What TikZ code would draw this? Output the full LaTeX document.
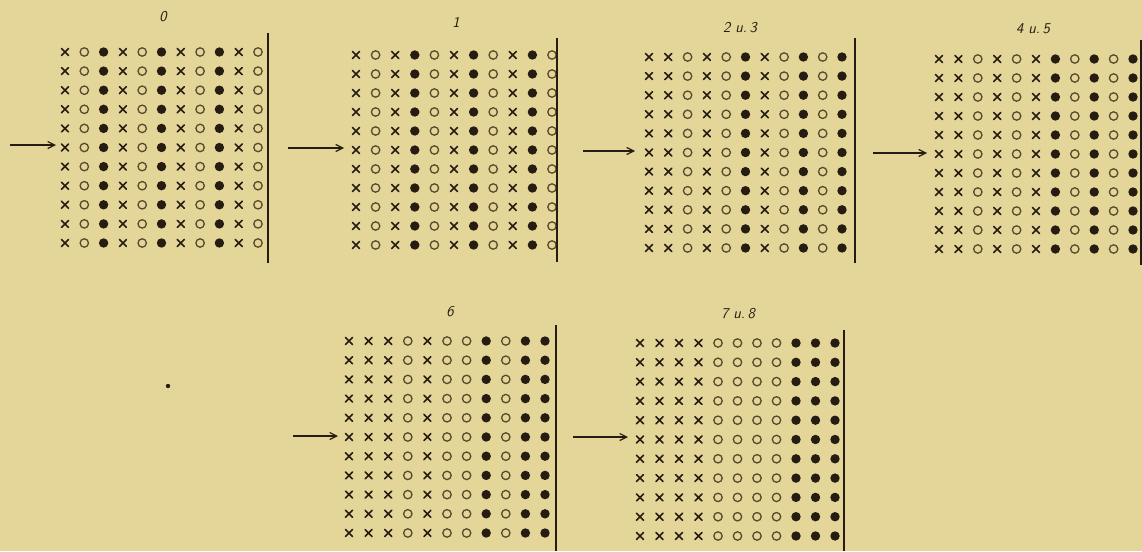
\documentclass[tikz,border=0pt]{standalone}
\usetikzlibrary{arrows.meta}
\definecolor{paper}{RGB}{228,214,152}
\definecolor{ink}{RGB}{38,28,18}
\definecolor{ringink}{RGB}{88,74,44}
\tikzset{
  mark x/.pic={\draw[ink,line width=1.6pt,line cap=round] (-3.5,-3.5) -- (3.5,3.5) (-3.5,3.5) -- (3.5,-3.5);},
  mark o/.pic={\draw[ringink,line width=1.3pt] (0,0) circle (4.2);},
  mark f/.pic={\fill[ink] (0,0) circle (4.7);},
  bar/.style={ink,line width=2.4pt},
  feed/.style={ink,line width=1.2pt,-{Straight Barb[length=7pt,width=7pt,line width=1.2pt]}},
  lab/.style={ink,font=\sffamily\itshape\fontsize{15}{15}\selectfont,inner sep=0pt}
}
% #1 x0, #2 y0, #3 dx, #4 dy, #5 pattern
\newcommand{\dotgrid}[5]{%
  \foreach \t [count=\i from 0] in {#5} {%
    \foreach \j in {0,...,10} {%
      \pic at ({#1+\i*#3},{#2+\j*#4}) {mark \t};
    }
  }%
}
\begin{document}
\begin{tikzpicture}[x=1pt,y=-1pt]
\fill[paper] (0,0) rectangle (1142,551);
\useasboundingbox (0,0) rectangle (1142,551);

% grid 0
\node[lab] (l0) at (163,17) {0};
\dotgrid{65}{52}{19.3}{19.1}{x,o,f,x,o,f,x,o,f,x,o}
\coordinate (b0t) at (268,33); \coordinate (b0b) at (268,263);
\draw[bar] (b0t) -- (b0b);
\coordinate (a0s) at (10,145); \coordinate (a0e) at (56,145);
\draw[feed] (a0s) -- (a0e);

% grid 1
\node[lab] (l1) at (456,22) {1};
\dotgrid{356}{55}{19.6}{19.0}{x,o,x,f,o,x,f,o,x,f,o}
\coordinate (b1t) at (557,38); \coordinate (b1b) at (557,262);
\draw[bar] (b1t) -- (b1b);
\coordinate (a1s) at (288,148); \coordinate (a1e) at (344,148);
\draw[feed] (a1s) -- (a1e);

% grid 2 u. 3
\node[lab] (l2) at (740,28) {2\,\,u.\,3};
\dotgrid{649}{57}{19.3}{19.1}{x,x,o,x,o,f,x,o,f,o,f}
\coordinate (b2t) at (855,38); \coordinate (b2b) at (855,263);
\draw[bar] (b2t) -- (b2b);
\coordinate (a2s) at (583,151); \coordinate (a2e) at (635,151);
\draw[feed] (a2s) -- (a2e);

% grid 4 u. 5
\node[lab] (l3) at (1033,29) {4\,\,u.\,5};
\dotgrid{939}{59}{19.4}{19.0}{x,x,o,x,o,x,f,o,f,o,f}
\coordinate (b3t) at (1140.8,40); \coordinate (b3b) at (1140.8,265);
\draw[bar] (b3t) -- (b3b);
\coordinate (a3s) at (873,153); \coordinate (a3e) at (927,153);
\draw[feed] (a3s) -- (a3e);

% grid 6
\node[lab] (l4) at (450,312) {6};
\dotgrid{349}{341}{19.6}{19.2}{x,x,x,o,x,o,o,f,o,f,f}
\coordinate (b4t) at (556,325); \coordinate (b4b) at (556,551);
\draw[bar] (b4t) -- (b4b);
\coordinate (a4s) at (293,436); \coordinate (a4e) at (338,436);
\draw[feed] (a4s) -- (a4e);

% grid 7 u. 8
\node[lab] (l5) at (738,314) {7\,\,u.\,8};
\dotgrid{640}{343}{19.5}{19.3}{x,x,x,x,o,o,o,o,f,f,f}
\coordinate (b5t) at (844,330); \coordinate (b5b) at (844,551);
\draw[bar] (b5t) -- (b5b);
\coordinate (a5s) at (573,437); \coordinate (a5e) at (628,437);
\draw[feed] (a5s) -- (a5e);

% speck
\fill[ink] (168,386) circle (2.2);
\end{tikzpicture}
\end{document}
